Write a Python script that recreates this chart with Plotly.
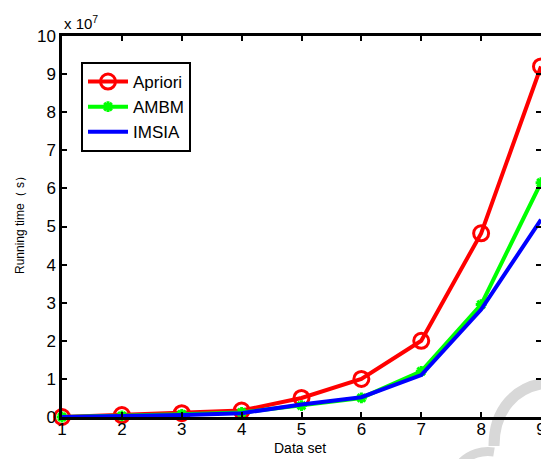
import plotly.graph_objects as go

datasets = [1, 2, 3, 4, 5, 6, 7, 8, 9]
apriori = [0.0, 0.05, 0.10, 0.17, 0.50, 1.00, 2.00, 4.82, 9.20]
ambm = [0.0, 0.03, 0.07, 0.12, 0.30, 0.50, 1.20, 2.95, 6.15]
imsia = [0.0, 0.02, 0.05, 0.10, 0.33, 0.52, 1.10, 2.82, 5.18]
yticks = [0, 1, 2, 3, 4, 5, 6, 7, 8, 9, 10]

W, H = 541, 459
L, R, T, B = 62, 0, 36, 42
FONT = "Liberation Sans, Arial"

def px(x, y):
    # page pixel -> paper coords
    return (x - L) / (W - L - R), (H - B - y) / (H - T - B)

fig = go.Figure()
fig.add_trace(go.Scatter(x=datasets, y=apriori, name="Apriori", mode="lines+markers",
                         line=dict(color="#ff0000", width=4),
                         marker=dict(symbol="circle-open", size=15, color="#ff0000", line=dict(width=3)),
                         cliponaxis=False))
fig.add_trace(go.Scatter(x=datasets, y=ambm, name="AMBM", mode="lines+markers",
                         line=dict(color="#00ff00", width=4),
                         marker=dict(symbol="asterisk-open", size=9, color="#00ff00", line=dict(width=3, color="#00ff00")),
                         cliponaxis=False))
fig.add_trace(go.Scatter(x=datasets, y=imsia, name="IMSIA", mode="lines",
                         line=dict(color="#0000ff", width=4), cliponaxis=False))

# watermark arc
p0 = px(494, 446); p1 = px(494, 410); p2 = px(515, 386); p3 = px(548, 383)
q0 = px(462, 462); q1 = px(470, 454); q2 = px(482, 450); q3 = px(494, 452)
fig.add_shape(type="path", xref="paper", yref="paper", layer="below",
              path=f"M {p0[0]},{p0[1]} C {p1[0]},{p1[1]} {p2[0]},{p2[1]} {p3[0]},{p3[1]}",
              line=dict(color="#d8d8d8", width=11))
fig.add_shape(type="path", xref="paper", yref="paper", layer="below",
              path=f"M {q0[0]},{q0[1]} C {q1[0]},{q1[1]} {q2[0]},{q2[1]} {q3[0]},{q3[1]}",
              line=dict(color="#d8d8d8", width=9))

axis_common = dict(showgrid=False, zeroline=False, showline=True, linecolor="black", linewidth=2.5,
                   mirror="allticks", ticks="inside", ticklen=5, tickwidth=1.5, tickcolor="black",
                   automargin=False, ticklabeloverflow="allow",
                   tickfont=dict(family=FONT, size=17, color="black"))

fig.update_xaxes(range=[1, 9], tickvals=datasets, ticklabelstandoff=-5, **axis_common)
fig.update_yaxes(range=[0, 10], tickvals=yticks, **axis_common)

fig.add_annotation(xref="paper", yref="paper", x=0, y=1, xanchor="left", yanchor="bottom", yshift=2,
                   text="x 10<sup>7</sup>", showarrow=False,
                   font=dict(family=FONT, size=15, color="black"))
xt = px(300, 448)
fig.add_annotation(xref="paper", yref="paper", x=xt[0], y=xt[1], xanchor="center", yanchor="middle",
                   text="Data set", showarrow=False, font=dict(family=FONT, size=14, color="black"))
yt = px(20, 222)
fig.add_annotation(xref="paper", yref="paper", x=yt[0], y=yt[1], xanchor="center", yanchor="middle",
                   text="Running time（ s）", textangle=-90, showarrow=False,
                   font=dict(family=FONT, size=12, color="black"))

lg = px(81, 62)
fig.update_layout(width=W, height=H, margin=dict(l=L, r=R, t=T, b=B, autoexpand=False),
                  paper_bgcolor="white", plot_bgcolor="white",
                  legend=dict(x=lg[0], y=lg[1], xanchor="left", yanchor="top", bgcolor="white",
                              bordercolor="black", borderwidth=2,
                              font=dict(family=FONT, size=17, color="black"),
                              tracegroupgap=0, itemwidth=40))
fig.write_html("out.html", config={"displayModeBar": False},
               post_script="document.body.style.margin='0';document.body.style.overflow='hidden';")
